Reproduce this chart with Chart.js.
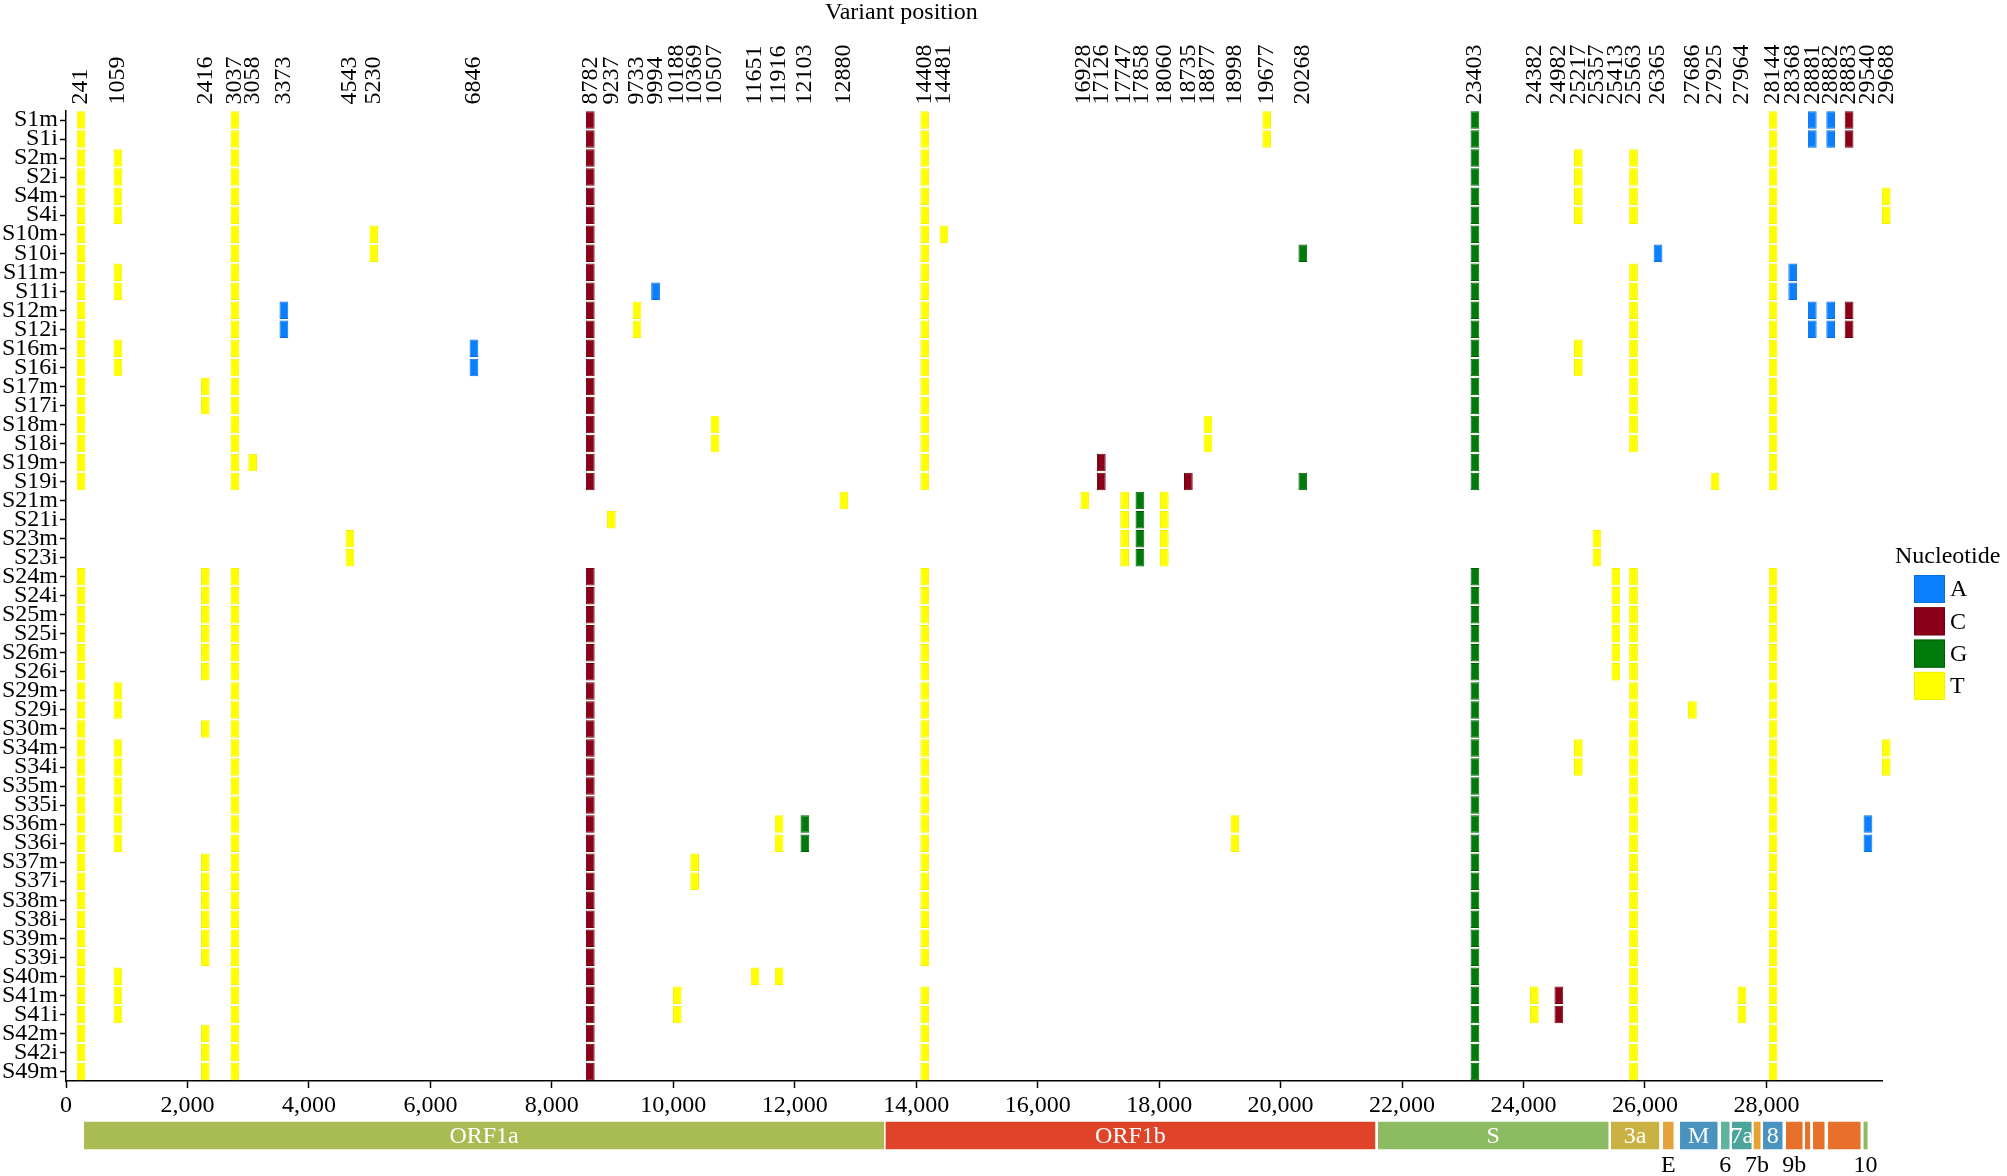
<!DOCTYPE html>
<html>
<head>
<meta charset="utf-8">
<script src="https://cdn.jsdelivr.net/npm/chart.js@4.4.1/dist/chart.umd.min.js"></script>
<style>
  html, body { margin: 0; padding: 0; background: #ffffff; }
  canvas { display: block; }
</style>
</head>
<body>
<canvas id="c" width="2007" height="1176"></canvas>
<script>
// ---------------- DATA ----------------
const samples = ['S1m','S1i','S2m','S2i','S4m','S4i','S10m','S10i','S11m','S11i','S12m','S12i',
  'S16m','S16i','S17m','S17i','S18m','S18i','S19m','S19i','S21m','S21i','S23m','S23i',
  'S24m','S24i','S25m','S25i','S26m','S26i','S29m','S29i','S30m','S34m','S34i','S35m','S35i',
  'S36m','S36i','S37m','S37i','S38m','S38i','S39m','S39i','S40m','S41m','S41i','S42m','S42i','S49m'];

// samples lacking the shared lineage variants
const outgroupSamples = ['S21m','S21i','S23m','S23i'];
const coreSamples = samples.filter(s => !outgroupSamples.includes(s));

// variant names (top tick labels)
const variantLabels = ['241','1059','2416','3037','3058','3373','4543','5230','6846','8782',
  '9237','9733','9994','10188','10369','10507','11651','11916','12103','12880',
  '14408','14481','16928','17126','17747','17858','18060','18735','18877','18998',
  '19677','20268','23403','24382','24982','25217','25357','25413','25563','26365',
  '27686','27925','27964','28144','28368','28881','28882','28883','29540','29688'];

// column position of each variant as drawn on the genome axis
const variantX = [250, 855, 2294, 2780, 3074, 3588, 4675, 5068, 6718, 8633,
  8979, 9402, 9708, 10066, 10351, 10687, 11347, 11742, 12167, 12809,
  14141, 14457, 16776, 17048, 17432, 17684, 18085, 18481, 18804, 19246,
  19771, 20366, 23200, 24178, 24582, 24903, 25208, 25521, 25811, 26215,
  26780, 27154, 27597, 28110, 28433, 28755, 29058, 29361, 29672, 29973];

// nucleotide of each variant column
const variantBase = ['T','T','T','T','T','A','T','T','A','C',
  'T','T','A','T','T','T','T','T','G','T',
  'T','T','T','C','T','G','T','C','T','T',
  'T','G','G','T','C','T','T','T','T','A',
  'T','T','T','T','A','A','A','C','A','T'];

// samples carrying each variant
const variantSamples = [
  coreSamples,                                                                  // 241
  ['S2m','S2i','S4m','S4i','S11m','S11i','S16m','S16i','S29m','S29i','S34m','S34i',
   'S35m','S35i','S36m','S36i','S40m','S41m','S41i'],                            // 1059
  ['S17m','S17i','S24m','S24i','S25m','S25i','S26m','S26i','S30m','S37m','S37i',
   'S38m','S38i','S39m','S39i','S42m','S42i','S49m'],                            // 2416
  coreSamples,                                                                  // 3037
  ['S19m'],                                                                     // 3058
  ['S12m','S12i'],                                                              // 3373
  ['S23m','S23i'],                                                              // 4543
  ['S10m','S10i'],                                                              // 5230
  ['S16m','S16i'],                                                              // 6846
  coreSamples,                                                                  // 8782
  ['S21i'],                                                                     // 9237
  ['S12m','S12i'],                                                              // 9733
  ['S11i'],                                                                     // 9994
  ['S41m','S41i'],                                                              // 10188
  ['S37m','S37i'],                                                              // 10369
  ['S18m','S18i'],                                                              // 10507
  ['S40m'],                                                                     // 11651
  ['S36m','S36i','S40m'],                                                       // 11916
  ['S36m','S36i'],                                                              // 12103
  ['S21m'],                                                                     // 12880
  coreSamples.filter(s => s !== 'S40m'),                                        // 14408
  ['S10m'],                                                                     // 14481
  ['S21m'],                                                                     // 16928
  ['S19m','S19i'],                                                              // 17126
  ['S21m','S21i','S23m','S23i'],                                                // 17747
  ['S21m','S21i','S23m','S23i'],                                                // 17858
  ['S21m','S21i','S23m','S23i'],                                                // 18060
  ['S19i'],                                                                     // 18735
  ['S18m','S18i'],                                                              // 18877
  ['S36m','S36i'],                                                              // 18998
  ['S1m','S1i'],                                                                // 19677
  ['S10i','S19i'],                                                              // 20268
  coreSamples,                                                                  // 23403
  ['S41m','S41i'],                                                              // 24382
  ['S41m','S41i'],                                                              // 24982
  ['S2m','S2i','S4m','S4i','S16m','S16i','S34m','S34i'],                        // 25217
  ['S23m','S23i'],                                                              // 25357
  ['S24m','S24i','S25m','S25i','S26m','S26i'],                                  // 25413
  ['S2m','S2i','S4m','S4i','S11m','S11i','S12m','S12i','S16m','S16i','S17m','S17i',
   'S18m','S18i','S24m','S24i','S25m','S25i','S26m','S26i','S29m','S29i','S30m',
   'S34m','S34i','S35m','S35i','S36m','S36i','S37m','S37i','S38m','S38i','S39m',
   'S39i','S40m','S41m','S41i','S42m','S42i','S49m'],                           // 25563
  ['S10i'],                                                                     // 26365
  ['S29i'],                                                                     // 27686
  ['S19i'],                                                                     // 27925
  ['S41m','S41i'],                                                              // 27964
  coreSamples,                                                                  // 28144
  ['S11m','S11i'],                                                              // 28368
  ['S1m','S1i','S12m','S12i'],                                                  // 28881
  ['S1m','S1i','S12m','S12i'],                                                  // 28882
  ['S1m','S1i','S12m','S12i'],                                                  // 28883
  ['S36m','S36i'],                                                              // 29540
  ['S4m','S4i','S34m','S34i']                                                   // 29688
];

const bases = ['A','C','G','T'];

// bottom axis tick values
const xTickValues = [0, 2000, 4000, 6000, 8000, 10000, 12000, 14000, 16000, 18000, 20000, 22000, 24000, 26000, 28000];
const genomeLength = 29903;

// genome annotation (as drawn under the axis)
const geneLabels = ['ORF1a','ORF1b','S','3a','E','M','6','7a','7b','8','9b','','','','10'];
const geneStart  = [285, 13484, 21592, 25428, 26285, 26565, 27240, 27421, 27778, 27932, 28310, 28623, 28755, 29002, 29587];
const geneEnd    = [13484, 21571, 25411, 26246, 26483, 27207, 27405, 27767, 27915, 28277, 28607, 28732, 28969, 29562, 29678];
const labelsBelow = ['E','6','7b','9b','10'];

// ---------------- STYLES ----------------
const FONT = "'Liberation Serif', 'Times New Roman', serif";
const baseColors  = { A: '#0a80ff', C: '#8b0018', G: '#007a0a', T: '#ffff00' };
const baseBorders = { A: '#0a6ee0', C: '#6e0012', G: '#005c06', T: '#f2f200' };
const geneColors = ['#a9bb53','#df4429','#8dbb62','#c9b143','#e5a23b','#4a93be','#60b39c','#4ca49a',
  '#e6a232','#4a93be','#e7702a','#e7702a','#e7702a','#e7702a','#8cbb62'];
const CELL_HALF = 72;      // half width of a cell, genome units
const LABEL_GAP = 296;     // minimal spacing of top labels, genome units

Chart.defaults.font.family = FONT;
Chart.defaults.font.size = 24;
Chart.defaults.color = '#000';

// spread top labels so they do not overlap (layout only)
function spreadLabels(vals, gap) {
  const p = vals.slice();
  for (let it = 0; it < 300; it++) {
    let moved = false;
    for (let i = 1; i < p.length; i++) {
      const d = p[i] - p[i - 1];
      if (d < gap - 0.01) {
        const sh = (gap - d) / 2;
        p[i - 1] -= sh; p[i] += sh; moved = true;
      }
    }
    if (!moved) break;
  }
  return p;
}
const labelPositions = spreadLabels(variantX, LABEL_GAP);

// ---------------- DATASETS ----------------
const datasets = bases.map(b => {
  const pts = [];
  variantBase.forEach((vb, j) => {
    if (vb !== b) return;
    variantSamples[j].forEach(s => {
      pts.push({ x: [variantX[j] - CELL_HALF, variantX[j] + CELL_HALF], y: s });
    });
  });
  return {
    label: b,
    data: pts,
    backgroundColor: baseColors[b],
    borderColor: baseBorders[b],
    borderWidth: 1,
    borderSkipped: false,
    grouped: false,
    categoryPercentage: 1.0,
    barPercentage: 0.92,
    clip: false
  };
});

// ---------------- PLUGINS ----------------
const titlePlugin = {
  id: 'variantTitle',
  afterDraw(chart) {
    const { ctx, chartArea } = chart;
    ctx.save();
    ctx.font = '24px ' + FONT;
    ctx.fillStyle = '#000';
    ctx.textAlign = 'center';
    ctx.textBaseline = 'middle';
    ctx.fillText('Variant position', chartArea.left + (chartArea.right - chartArea.left) * 0.46, 13);
    ctx.restore();
  }
};

const genomePlugin = {
  id: 'genomeBar',
  afterDraw(chart) {
    const { ctx, chartArea } = chart;
    const xs = chart.scales.x;
    const top = chartArea.bottom + 40;
    const h = 29;
    ctx.save();
    geneLabels.forEach((g, i) => {
      const x0 = xs.getPixelForValue(geneStart[i]);
      const x1 = xs.getPixelForValue(geneEnd[i]);
      ctx.fillStyle = geneColors[i];
      ctx.fillRect(x0, top, x1 - x0, h);
      ctx.strokeStyle = '#ffffff';
      ctx.lineWidth = 1.5;
      ctx.strokeRect(x0, top, x1 - x0, h);
    });
    ctx.font = '24px ' + FONT;
    ctx.textAlign = 'center';
    ctx.textBaseline = 'middle';
    geneLabels.forEach((g, i) => {
      if (!g) return;
      const cx = (xs.getPixelForValue(geneStart[i]) + xs.getPixelForValue(geneEnd[i])) / 2;
      if (labelsBelow.includes(g)) {
        ctx.fillStyle = '#000';
        ctx.fillText(g, cx, top + h + 16);
      } else {
        ctx.fillStyle = '#ffffff';
        ctx.fillText(g, cx, top + h / 2 + 1);
      }
    });
    ctx.restore();
  }
};

const legendPlugin = {
  id: 'nucLegend',
  afterDraw(chart) {
    const { ctx, chartArea } = chart;
    const left = chartArea.right;
    ctx.save();
    ctx.font = '24px ' + FONT;
    ctx.fillStyle = '#000';
    ctx.textAlign = 'left';
    ctx.textBaseline = 'middle';
    ctx.fillText('Nucleotide', left + 13, 557);
    bases.forEach((b, i) => {
      const y = 575 + i * 32.3;
      ctx.fillStyle = baseColors[b];
      ctx.fillRect(left + 32, y, 31, 28);
      ctx.strokeStyle = baseBorders[b];
      ctx.lineWidth = 1;
      ctx.strokeRect(left + 32.5, y + 0.5, 30, 27);
      ctx.fillStyle = '#000';
      ctx.fillText(b, left + 68, y + 15);
    });
    ctx.restore();
  }
};

// ---------------- CHART ----------------
new Chart(document.getElementById('c'), {
  type: 'bar',
  data: { labels: samples, datasets },
  options: {
    indexAxis: 'y',
    responsive: false,
    animation: false,
    devicePixelRatio: 1,
    layout: { padding: { top: 0, right: 125, bottom: 0, left: 0 } },
    plugins: { legend: { display: false }, tooltip: { enabled: false } },
    scales: {
      x: {
        type: 'linear', position: 'bottom', min: 0, max: genomeLength,
        afterBuildTicks(s) { s.ticks = xTickValues.map(v => ({ value: v })); },
        ticks: {
          autoSkip: false, maxRotation: 0,
          padding: 3, color: '#000', font: { size: 24, family: FONT },
          callback: v => Number(v).toLocaleString('en-US')
        },
        grid: { drawOnChartArea: false, tickLength: 7, tickColor: '#000', tickWidth: 1.5 },
        border: { color: '#000', width: 1.5 },
        afterFit(s) { s.height = 95; }
      },
      x2: {
        type: 'linear', position: 'top', min: 0, max: genomeLength,
        afterBuildTicks(s) { s.ticks = labelPositions.map(v => ({ value: v })); },
        ticks: {
          autoSkip: false, minRotation: 90, maxRotation: 90, padding: 6, labelOffset: 28.8,
          color: '#000', font: { size: 24, family: FONT },
          callback: (v, i) => variantLabels[i]
        },
        grid: { display: false, drawTicks: false },
        border: { display: false },
        afterFit(s) { s.height = 110.5; }
      },
      y: {
        type: 'category', offset: true,
        ticks: { autoSkip: false, padding: 2, color: '#000', font: { size: 24, family: FONT } },
        grid: { drawOnChartArea: false, offset: false, tickLength: 6, tickColor: '#000', tickWidth: 1.5 },
        border: { color: '#000', width: 1.5 },
        afterFit(s) { s.width = 66; }
      }
    }
  },
  plugins: [titlePlugin, genomePlugin, legendPlugin]
});
</script>
</body>
</html>
